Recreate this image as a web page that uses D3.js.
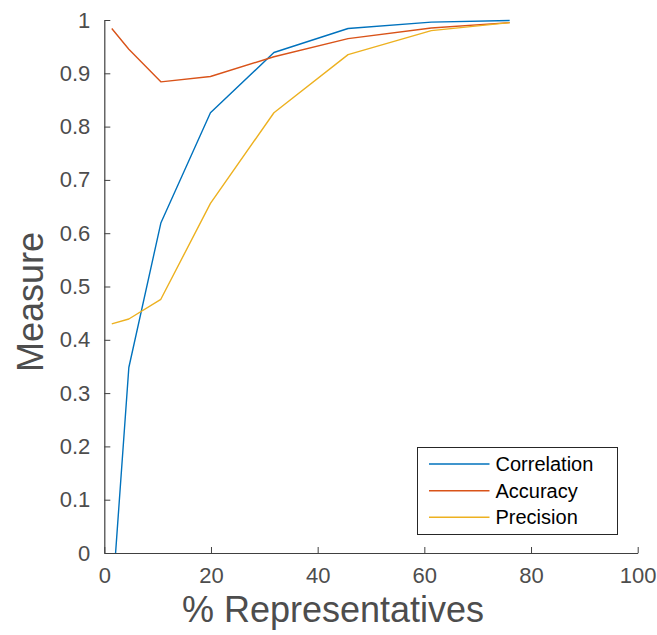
<!DOCTYPE html>
<html><head><meta charset="utf-8">
<script src="https://cdn.jsdelivr.net/npm/d3@7"></script>
<style>body{margin:0;background:#fff}svg{display:block}text{font-family:"Liberation Sans",Arial,sans-serif}</style>
</head><body><svg id="c" width="657" height="635"></svg>
<script>
const xValues = [1.4, 4.6, 10.6, 19.9, 31.8, 45.7, 61.3, 76.0];
const correlation = [-0.10, 0.348, 0.619, 0.826, 0.939, 0.984, 0.996, 0.999];
const accuracy = [0.984, 0.945, 0.884, 0.894, 0.931, 0.965, 0.985, 0.995];
const precision = [0.430, 0.439, 0.476, 0.656, 0.826, 0.935, 0.980, 0.995];
const seriesNames = ["Correlation", "Accuracy", "Precision"];
const seriesColors = ["#0072BD", "#D95319", "#EDB120"];
const xTicks = [0, 20, 40, 60, 80, 100];
const yTicks = [0, 0.1, 0.2, 0.3, 0.4, 0.5, 0.6, 0.7, 0.8, 0.9, 1];

const svg = d3.select("#c");
const L = 104.3, R = 637.7, T = 20, B = 553;
const x = d3.scaleLinear().domain([0, 100]).range([L, R]);
const y = d3.scaleLinear().domain([0, 1]).range([B, T]);
const axisCol = "#404040", textCol = "#4d4d4d";

svg.append("defs").append("clipPath").attr("id", "clip")
  .append("rect").attr("x", L).attr("y", T - 2).attr("width", R - L).attr("height", B - T + 2);

// axes
const xAxis = svg.append("g").attr("transform", `translate(0,${B})`)
  .call(d3.axisBottom(x).tickValues(xTicks).tickSizeInner(-6).tickSizeOuter(0).tickPadding(14).tickFormat(d3.format("d")));
const yAxis = svg.append("g").attr("transform", `translate(${L},0)`)
  .call(d3.axisLeft(y).tickValues(yTicks).tickSizeInner(-6).tickSizeOuter(0).tickPadding(14).tickFormat(d => d === 0 || d === 1 ? String(d) : d3.format(".1f")(d)));
[xAxis, yAxis].forEach(g => {
  g.select(".domain").attr("stroke", axisCol).attr("stroke-width", 1.2);
  g.selectAll(".tick line").attr("stroke", axisCol).attr("stroke-width", 1);
  g.selectAll(".tick text").attr("fill", textCol).attr("font-size", 22);
});

// lines
const series = [correlation, accuracy, precision];
const line = d3.line().x((d, i) => x(xValues[i])).y(d => y(d));
const gl = svg.append("g").attr("clip-path", "url(#clip)");
series.forEach((s, k) => {
  gl.append("path").datum(s).attr("d", line).attr("fill", "none")
    .attr("stroke", seriesColors[k]).attr("stroke-width", 1.4).attr("stroke-linejoin", "round");
});

// labels
svg.append("text").attr("x", 333).attr("y", 622).attr("text-anchor", "middle")
  .attr("fill", textCol).attr("font-size", 36).text("% Representatives");
svg.append("text").attr("transform", "translate(43,302) rotate(-90)").attr("text-anchor", "middle")
  .attr("fill", textCol).attr("font-size", 36).text("Measure");

// legend
const lg = svg.append("g");
lg.append("rect").attr("x", 417.5).attr("y", 447.5).attr("width", 200).attr("height", 87)
  .attr("fill", "#fff").attr("stroke", "#262626").attr("stroke-width", 1);
const rows = [464, 490.7, 517.3];
seriesNames.forEach((n, k) => {
  lg.append("line").attr("x1", 429).attr("x2", 489.5).attr("y1", rows[k]).attr("y2", rows[k])
    .attr("stroke", seriesColors[k]).attr("stroke-width", 1.4);
  lg.append("text").attr("x", 495.5).attr("y", rows[k]).attr("dy", "0.35em")
    .attr("fill", "#000").attr("font-size", 20).text(n);
});
</script></body></html>
